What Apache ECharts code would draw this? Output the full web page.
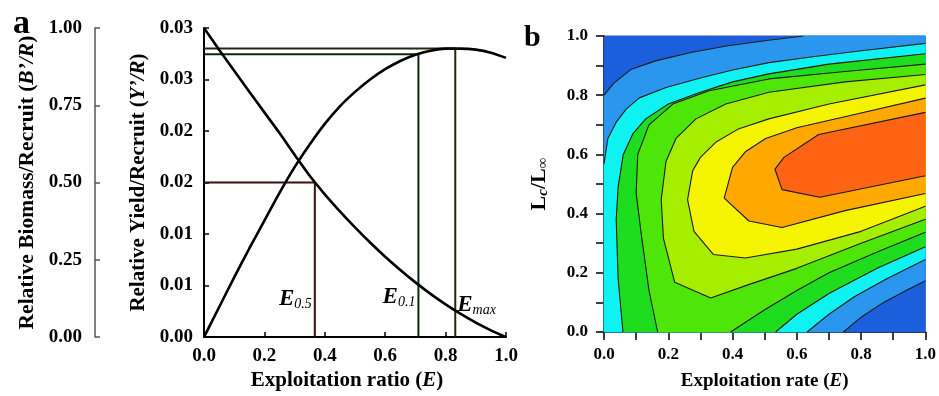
<!DOCTYPE html>
<html><head><meta charset="utf-8">
<script src="https://cdn.jsdelivr.net/npm/echarts@6/dist/echarts.min.js"></script>
<style>html,body{margin:0;padding:0;background:#fff}#c{width:939px;height:396px}</style>
</head><body><div id="c"></div>
<script>
// ---------- Panel a data ----------
const ratio = [0,0.05,0.1,0.15,0.2,0.25,0.3,0.35,0.4,0.45,0.5,0.55,0.6,0.65,0.7,0.75,0.8,0.85,0.9,0.95,1.0];
const yieldPerRecruit = [0,0.0029,0.0058,0.0086,0.0113,0.0140,0.0165,0.0187,0.0207,0.0224,0.0238,0.0250,0.0260,0.0268,0.0274,0.0278,0.0280,0.0280,0.0279,0.0276,0.0271];
const biomassPerRecruit = [1.0,0.93,0.862,0.794,0.727,0.66,0.59,0.522,0.462,0.407,0.355,0.306,0.26,0.217,0.177,0.14,0.106,0.075,0.047,0.022,0];
const refE = [0.367, 0.71, 0.832];          // E0.5, E0.1, Emax
const refNames = ['0.5', '0.1', 'max'];
const biomassHalf = 0.5;
const yieldAtE01 = 0.02746;
const yieldMax = 0.028;
const yieldTickLabels = ['0.00','0.01','0.01','0.02','0.02','0.03','0.03'];
const biomassTickLabels = ['0.00','0.25','0.50','0.75','1.00'];
const ratioTickLabels = ['0.0','0.2','0.4','0.6','0.8','1.0'];

// ---------- Panel b data (contour lines, [E, Lc/Linf]) ----------
const c1a = [[0,0.80],[0.03,0.84],[0.085,0.888],[0.16,0.916],[0.27,0.944],[0.38,0.966],[0.5,0.984],[0.62,1.0]];
const c1b = [[0.745,0],[0.8,0.05],[0.87,0.1],[0.94,0.14],[1,0.173]];
const c2a = [[0,0.567],[0.012,0.654],[0.038,0.709],[0.069,0.753],[0.11,0.791],[0.193,0.826],[0.3,0.858],[0.4,0.885],[0.513,0.91],[0.65,0.93],[0.8,0.95],[1,0.975]];
const c2b = [[0.632,0],[0.7,0.06],[0.78,0.12],[0.88,0.18],[1,0.245]];
const c3a = [[0.059,0],[0.044,0.18],[0.038,0.38],[0.044,0.49],[0.06,0.6],[0.09,0.67],[0.13,0.72],[0.2,0.77],[0.3,0.81],[0.4,0.845],[0.513,0.872],[0.7,0.905],[1,0.94]];
const c3b = [[0.534,0],[0.6,0.06],[0.7,0.13],[0.85,0.215],[1,0.288]];
const c4a = [[0.167,0],[0.14,0.14],[0.116,0.33],[0.1,0.47],[0.105,0.6],[0.14,0.7],[0.214,0.77],[0.327,0.815],[0.513,0.855],[0.75,0.88],[1,0.905]];
const c4b = [[0.394,0],[0.5,0.075],[0.6,0.14],[0.7,0.2],[0.85,0.27],[1,0.337]];
const c5 = [[1,0.381],[0.8,0.3],[0.6,0.215],[0.45,0.16],[0.332,0.115],[0.22,0.168],[0.185,0.316],[0.178,0.447],[0.193,0.577],[0.224,0.654],[0.286,0.72],[0.379,0.77],[0.513,0.81],[0.75,0.845],[1,0.87]];
const c6 = [[1,0.425],[0.8,0.34],[0.6,0.28],[0.44,0.25],[0.34,0.262],[0.28,0.34],[0.26,0.447],[0.276,0.545],[0.3,0.59],[0.35,0.643],[0.42,0.687],[0.513,0.72],[0.7,0.77],[1,0.835]];
const c7 = [[1,0.468],[0.75,0.41],[0.554,0.353],[0.451,0.375],[0.374,0.452],[0.4,0.556],[0.441,0.61],[0.503,0.654],[0.6,0.69],[0.8,0.74],[1,0.79]];
const c8 = [[1,0.528],[0.672,0.455],[0.554,0.481],[0.532,0.55],[0.56,0.59],[0.668,0.667],[1,0.742]];
const bandColors = ['#1b5fdc','#2a96ee','#0ff2f2','#1edc1e','#4ee608','#a6ee00','#f4f400','#ffa800','#ff6414'];
const bTickLabels = ['0.0','0.2','0.4','0.6','0.8','1.0'];

// ---------- build ----------
const rev = a => a.slice().reverse();
const regions = [
  [[0,0],[1,0],[1,1],[0,1]],
  [[0,0]].concat(c1b, [[1,1]], rev(c1a)),
  [[0,0]].concat(c2b, rev(c2a)),
  c3b.concat(rev(c3a)),
  c4b.concat(rev(c4a)),
  c5, c6, c7, c8
];
const contourLines = [c1a,c1b,c2a,c2b,c3a,c3b,c4a,c4b,c5,c6,c7,c8];

const FONT = 'Liberation Serif';
const zip = (xs, ys) => xs.map((x,i)=>[x, ys[i]]);

const chart = echarts.init(document.getElementById('c'), null, {renderer:'canvas'});
const axisLbl = (size, extra) => Object.assign({color:'#000', fontFamily:FONT, fontWeight:'bold', fontSize:size}, extra||{});
const nameStyle = (size, extra) => Object.assign({color:'#000', fontFamily:FONT, fontWeight:'bold', fontSize:size,
  rich:{i:{fontFamily:FONT, fontWeight:'bold', fontStyle:'italic', fontSize:size, color:'#000'}}}, extra||{});

const series = [];
// panel a reference lines
series.push({type:'line', xAxisIndex:0, yAxisIndex:1, symbol:'none', silent:true,
  data:[[0,biomassHalf],[refE[0],biomassHalf],[refE[0],0]], lineStyle:{color:'#3a1010', width:2}});
series.push({type:'line', xAxisIndex:0, yAxisIndex:0, symbol:'none', silent:true,
  data:[[0,yieldAtE01],[refE[1],yieldAtE01],[refE[1],0]], lineStyle:{color:'#0e260e', width:2}});
series.push({type:'line', xAxisIndex:0, yAxisIndex:0, symbol:'none', silent:true,
  data:[[0,yieldMax],[refE[2],yieldMax],[refE[2],0]], lineStyle:{color:'#26260a', width:2}});
// curves
series.push({type:'line', xAxisIndex:0, yAxisIndex:1, symbol:'none', smooth:0.3,
  data:zip(ratio, biomassPerRecruit), lineStyle:{color:'#000', width:2.6}});
series.push({type:'line', xAxisIndex:0, yAxisIndex:0, symbol:'none', smooth:0.3,
  data:zip(ratio, yieldPerRecruit), lineStyle:{color:'#000', width:2.6}});
// E labels
const eRich = {e:{fontFamily:FONT, fontStyle:'italic', fontWeight:'bold', fontSize:23, color:'#000', lineHeight:24, verticalAlign:'middle'},
               s:{fontFamily:FONT, fontStyle:'italic', fontWeight:'normal', fontSize:14, color:'#000', lineHeight:12, verticalAlign:'bottom'}};
series.push({type:'scatter', xAxisIndex:0, yAxisIndex:0, symbolSize:0, silent:true, itemStyle:{opacity:1},
  data:[[refE[0],0.0037],[refE[1],0.0039]],
  label:{show:true, position:'left', distance:3, color:'#000', opacity:1, rich:eRich,
    formatter:p => '{e|E}{s|' + refNames[p.dataIndex] + '}'}});
series.push({type:'scatter', xAxisIndex:0, yAxisIndex:0, symbolSize:0, silent:true, itemStyle:{opacity:1},
  data:[[refE[2],0.0031]],
  label:{show:true, position:'right', distance:2, color:'#000', opacity:1, rich:eRich,
    formatter:() => '{e|E}{s|' + refNames[2] + '}'}});

// panel b filled bands
series.push({type:'custom', xAxisIndex:1, yAxisIndex:2, silent:true,
  data: regions.map((r,i)=>[r[0][0], r[0][1], i]),
  encode:{x:0, y:1},
  renderItem:(params, api) => {
    const idx = api.value(2);
    const pts = regions[idx].map(p => api.coord(p));
    return {type:'polygon', shape:{points:pts}, style:{fill:bandColors[idx], stroke:bandColors[idx], lineWidth:0.5}};
  }});
contourLines.forEach(c => series.push({type:'line', xAxisIndex:1, yAxisIndex:2, symbol:'none', silent:true,
  data:c, lineStyle:{color:'#1a1a1a', width:1.1}}));

const option = {
  animation:false,
  backgroundColor:'#fff',
  title:[
    {text:'a', left:8, top:2, textStyle:{fontFamily:FONT, fontWeight:'bold', fontSize:34, color:'#000'}},
    {text:'b', left:519, top:18, textStyle:{fontFamily:FONT, fontWeight:'bold', fontSize:30, color:'#000'}}
  ],
  grid:[
    {left:204, top:28, width:302, height:315},
    {left:604, top:36, width:323, height:303.5, show:true, borderColor:'#8a8a8a', borderWidth:1}
  ],
  xAxis:[
    {type:'value', gridIndex:0, min:0, max:1, interval:0.2,
     axisLine:{lineStyle:{color:'#000', width:2}}, axisTick:{inside:true, length:5, lineStyle:{color:'#000', width:1.5}},
     splitLine:{show:false},
     axisLabel:axisLbl(19, {margin:9, formatter:v => ratioTickLabels[Math.round(v/0.2)]}),
     name:'Exploitation ratio ({i|E})', nameLocation:'middle', nameGap:31, nameTextStyle:nameStyle(21, {padding:[0,16,0,0]})},
    {type:'value', gridIndex:1, min:0, max:1, interval:0.1,
     axisLine:{lineStyle:{color:'#000', width:1.5}}, axisTick:{inside:false, length:8, lineStyle:{color:'#000', width:1.5}},
     splitLine:{show:false},
     axisLabel:axisLbl(17, {margin:14, formatter:v => {const k=Math.round(v*10); return k%2===0 ? bTickLabels[k/2] : '';}}),
     name:'Exploitation rate ({i|E})', nameLocation:'middle', nameGap:40, nameTextStyle:nameStyle(19)}
  ],
  yAxis:[
    {type:'value', gridIndex:0, min:0, max:0.03, interval:0.005, position:'left',
     axisLine:{show:true, lineStyle:{color:'#000', width:2}}, axisTick:{show:true, inside:true, length:5, lineStyle:{color:'#000', width:1.5}},
     splitLine:{show:false},
     axisLabel:axisLbl(19, {margin:11, formatter:v => yieldTickLabels[Math.round(v/0.005)]}),
     name:'Relative Yield/Recruit ({i|Y’/R})', nameLocation:'middle', nameRotate:90, nameGap:55, nameTextStyle:nameStyle(21)},
    {type:'value', gridIndex:0, min:0, max:1, interval:0.25, position:'left', offset:109,
     axisLine:{show:true, lineStyle:{color:'#555', width:1.5}}, axisTick:{show:true, inside:true, length:5, lineStyle:{color:'#555', width:1.5}},
     splitLine:{show:false},
     axisLabel:axisLbl(19, {margin:13, formatter:v => biomassTickLabels[Math.round(v/0.25)]}),
     name:'Relative Biomass/Recruit ({i|B’/R})', nameLocation:'middle', nameRotate:90, nameGap:57, nameTextStyle:nameStyle(21.5)},
    {type:'value', gridIndex:1, min:0, max:1, interval:0.1,
     axisLine:{show:true, lineStyle:{color:'#000', width:1.5}}, axisTick:{show:true, inside:false, length:8, lineStyle:{color:'#000', width:1.5}},
     splitLine:{show:false},
     axisLabel:axisLbl(17, {margin:16, formatter:v => {const k=Math.round(v*10); return k%2===0 ? bTickLabels[k/2] : '';}}),
     name:'{m|L}{s|c}{m|/L}{s|∞}', nameLocation:'middle', nameRotate:90, nameGap:53,
     nameTextStyle:{color:'#000', fontFamily:FONT, fontWeight:'bold', fontSize:22,
       rich:{m:{fontFamily:FONT, fontWeight:'bold', fontSize:22, color:'#000', lineHeight:24, verticalAlign:'middle'},
             s:{fontFamily:FONT, fontWeight:'bold', fontStyle:'italic', fontSize:15, color:'#000', lineHeight:10, verticalAlign:'bottom'}}}}
  ],
  series: series
};
chart.setOption(option);
</script>
</body></html>
